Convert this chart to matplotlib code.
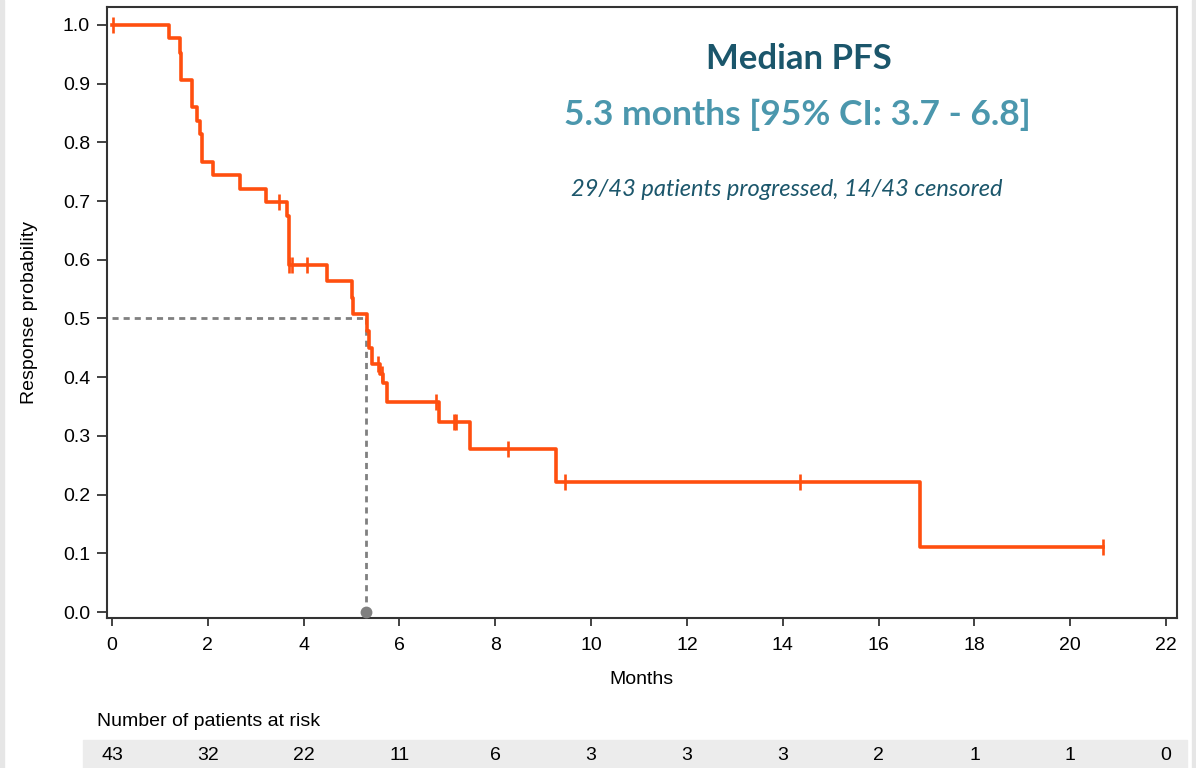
import numpy as np
import matplotlib.pyplot as plt
from matplotlib.patches import Rectangle
from matplotlib.transforms import blended_transform_factory

# Kaplan-Meier steps
step_times = [0, 1.18, 1.42, 1.45, 1.68, 1.77, 1.84, 1.87, 2.10, 2.67, 3.22, 3.66, 3.69,
              4.48, 5.00, 5.04, 5.32, 5.37, 5.42, 5.59, 5.65, 5.73, 6.83, 7.47, 9.27,
              16.87, 20.69]
step_surv = [1.000, 0.977, 0.953, 0.907, 0.860, 0.837, 0.814, 0.767, 0.744, 0.721, 0.698,
             0.674, 0.591, 0.563, 0.535, 0.507, 0.478, 0.450, 0.422, 0.405, 0.390, 0.358,
             0.323, 0.277, 0.221, 0.111, 0.111]

# censored observations
cens_times = [0.02, 3.49, 3.69, 3.76, 4.08, 5.56, 5.63, 6.76, 7.14, 7.18, 8.26, 9.46, 14.36, 20.69]
cens_surv = [1.0, 0.698, 0.591, 0.591, 0.591, 0.422, 0.405, 0.358, 0.323, 0.323, 0.277,
             0.221, 0.221, 0.111]

median_t = 5.3
median_s = 0.5

risk_months = [0, 2, 4, 6, 8, 10, 12, 14, 16, 18, 20, 22]
risk_counts = [43, 32, 22, 11, 6, 3, 3, 3, 2, 1, 1, 0]

W, H = 1196, 768
ORANGE = '#ff4f0f'
DARK_TEAL = '#1b566b'
LIGHT_TEAL = '#4b97ad'
FS = 14

plt.rcParams['font.family'] = ['Liberation Sans', 'DejaVu Sans']

fig = plt.figure(figsize=(W / 100, H / 100), dpi=100)

# grey frame strips at the left and right edges, and the at-risk band
fig.patches.append(Rectangle((0, 0), 4 / W, 1, transform=fig.transFigure, color='#e6e6e6', zorder=-5))
fig.patches.append(Rectangle((1192 / W, 0), 4 / W, 1, transform=fig.transFigure, color='#e6e6e6', zorder=-5))
fig.patches.append(Rectangle((83 / W, 0), (1187 - 83) / W, 28 / H, transform=fig.transFigure,
                             color='#ececec', zorder=-5))

ax = fig.add_axes([106.7 / W, 1 - 618 / H, (1176.7 - 106.7) / W, (618 - 7.3) / H])

ax.step(step_times, step_surv, where='post', color=ORANGE, lw=2.6, zorder=3)
ax.plot(cens_times, cens_surv, linestyle='none', marker='|', markersize=12,
        markeredgewidth=1.9, color=ORANGE, zorder=4)

# median guide lines
ax.plot([0, median_t], [median_s, median_s], color='#808080', lw=2, ls=(0, (2.2, 1.8)), zorder=2)
ax.plot([median_t, median_t], [median_s, 0], color='#808080', lw=2, ls=(0, (2.2, 1.8)), zorder=2)
ax.plot([median_t], [0], marker='o', markersize=7.5, color='#808080', zorder=5, clip_on=False)

ax.set_xlim(-0.11, 22.22)
ax.set_ylim(-0.0102, 1.030)
ax.set_xticks(range(0, 23, 2))
ax.set_yticks(np.arange(0, 1.01, 0.1))
ax.set_yticklabels([f'{v:.1f}' for v in np.arange(0, 1.01, 0.1)])
ax.tick_params(axis='y', length=7, width=1.2, pad=5, labelsize=FS, color='#222222')
ax.tick_params(axis='x', length=6, width=1.2, pad=8, labelsize=FS, color='#222222')
for sp in ax.spines.values():
    sp.set_color('#333333')
    sp.set_linewidth(1.5)

ax.set_xlabel('Months', fontsize=FS, labelpad=12)
fig.text(30 / W, 1 - 313 / H, 'Response probability', rotation=90, ha='center', va='center', fontsize=FS)

# annotation block
fig.text(799 / W, 1 - 59 / H, 'Median PFS', ha='center', va='center', fontsize=25,
         fontweight='bold', color=DARK_TEAL, family=['Lato', 'DejaVu Sans'])
fig.text(797 / W, 1 - 115 / H, '5.3 months [95% CI: 3.7 - 6.8]', ha='center', va='center',
         fontsize=25.5, fontweight='bold', color=LIGHT_TEAL, family=['Lato', 'DejaVu Sans'])
fig.text(787 / W, 1 - 189 / H, '29/43 patients progressed, 14/43 censored', ha='center', va='center',
         fontsize=17, style='italic', color=DARK_TEAL, family=['Lato', 'DejaVu Sans'])

# number at risk table
fig.text(97 / W, 1 - 722 / H, 'Number of patients at risk', ha='left', va='center', fontsize=FS)
trans = blended_transform_factory(ax.transData, fig.transFigure)
for m, n in zip(risk_months, risk_counts):
    fig.text(m, 1 - 755 / H, str(n), transform=trans, ha='center', va='center', fontsize=FS)

fig.savefig('out.png', dpi=100)
